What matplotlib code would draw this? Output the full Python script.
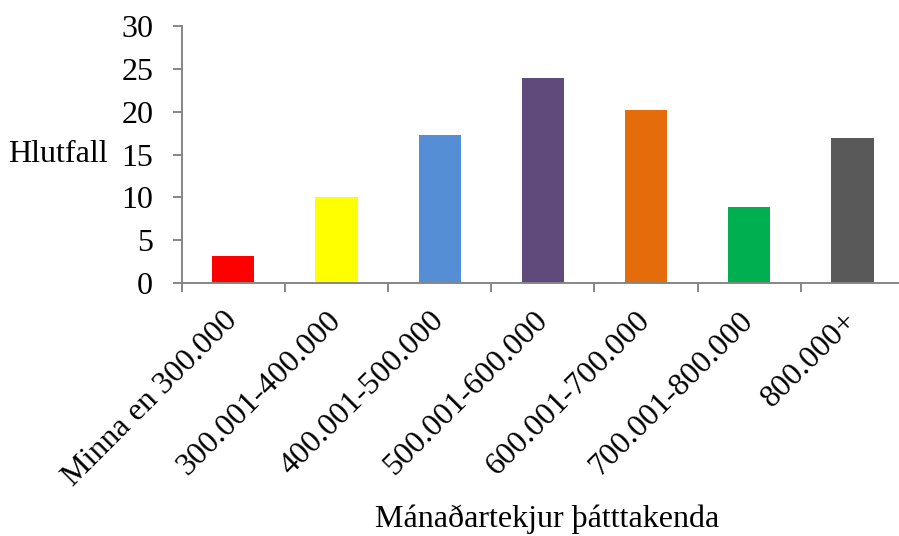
import matplotlib
matplotlib.use("Agg")
import matplotlib.pyplot as plt
from matplotlib.ticker import FixedLocator

categories = ["Minna en 300.000", "300.001-400.000", "400.001-500.000",
              "500.001-600.000", "600.001-700.000", "700.001-800.000", "800.000+"]
values = [3.1, 10.0, 17.3, 24.0, 20.2, 8.9, 16.9]
colors = ["#FF0000", "#FFFF00", "#558ED5", "#604A7B", "#E46C0A", "#00B050", "#595959"]
yticks = [0, 5, 10, 15, 20, 25, 30]

plt.rcParams['font.family'] = ['Liberation Serif', 'DejaVu Serif']
W, H = 899, 536
fig = plt.figure(figsize=(W / 100, H / 100), dpi=100)
x0, x1 = 181.7, 904.0
y0, y1 = 282.7, 26.3
ax = fig.add_axes([x0 / W, 1 - y0 / H, (x1 - x0) / W, (y0 - y1) / H])

pos = list(range(len(categories)))
ax.bar(pos, values, width=0.41, color=colors, zorder=2)
ax.set_xlim(-0.5, len(categories) - 0.5)
ax.set_ylim(0, 30)

axis_col = "#868686"
for s in ["top", "right"]:
    ax.spines[s].set_visible(False)
for s in ["left", "bottom"]:
    ax.spines[s].set_color(axis_col)
    ax.spines[s].set_linewidth(1.4)

fs = 23
ax.set_yticks(yticks)
ax.set_yticklabels([str(v) for v in yticks], fontsize=fs)
ax.tick_params(axis='y', length=6.5, width=1.4, color=axis_col, pad=14)

ax.set_xticks(pos)
ax.set_xticklabels(categories, fontsize=fs, rotation=45, ha='right',
                   rotation_mode='anchor', va='center')
ax.tick_params(axis='x', which='major', length=0, pad=24)
ax.xaxis.set_minor_locator(FixedLocator([i - 0.5 for i in range(len(categories) + 1)]))
ax.tick_params(axis='x', which='minor', length=6.5, width=1.4, color=axis_col)

fig.text(108 / W, 1 - 155 / H, "Hlutfall", fontsize=fs, ha='right', va='center')
fig.text(547 / W, 1 - 527 / H, "Mánaðartekjur þátttakenda", fontsize=fs,
         ha='center', va='baseline')

fig.savefig("out.png", dpi=100)
